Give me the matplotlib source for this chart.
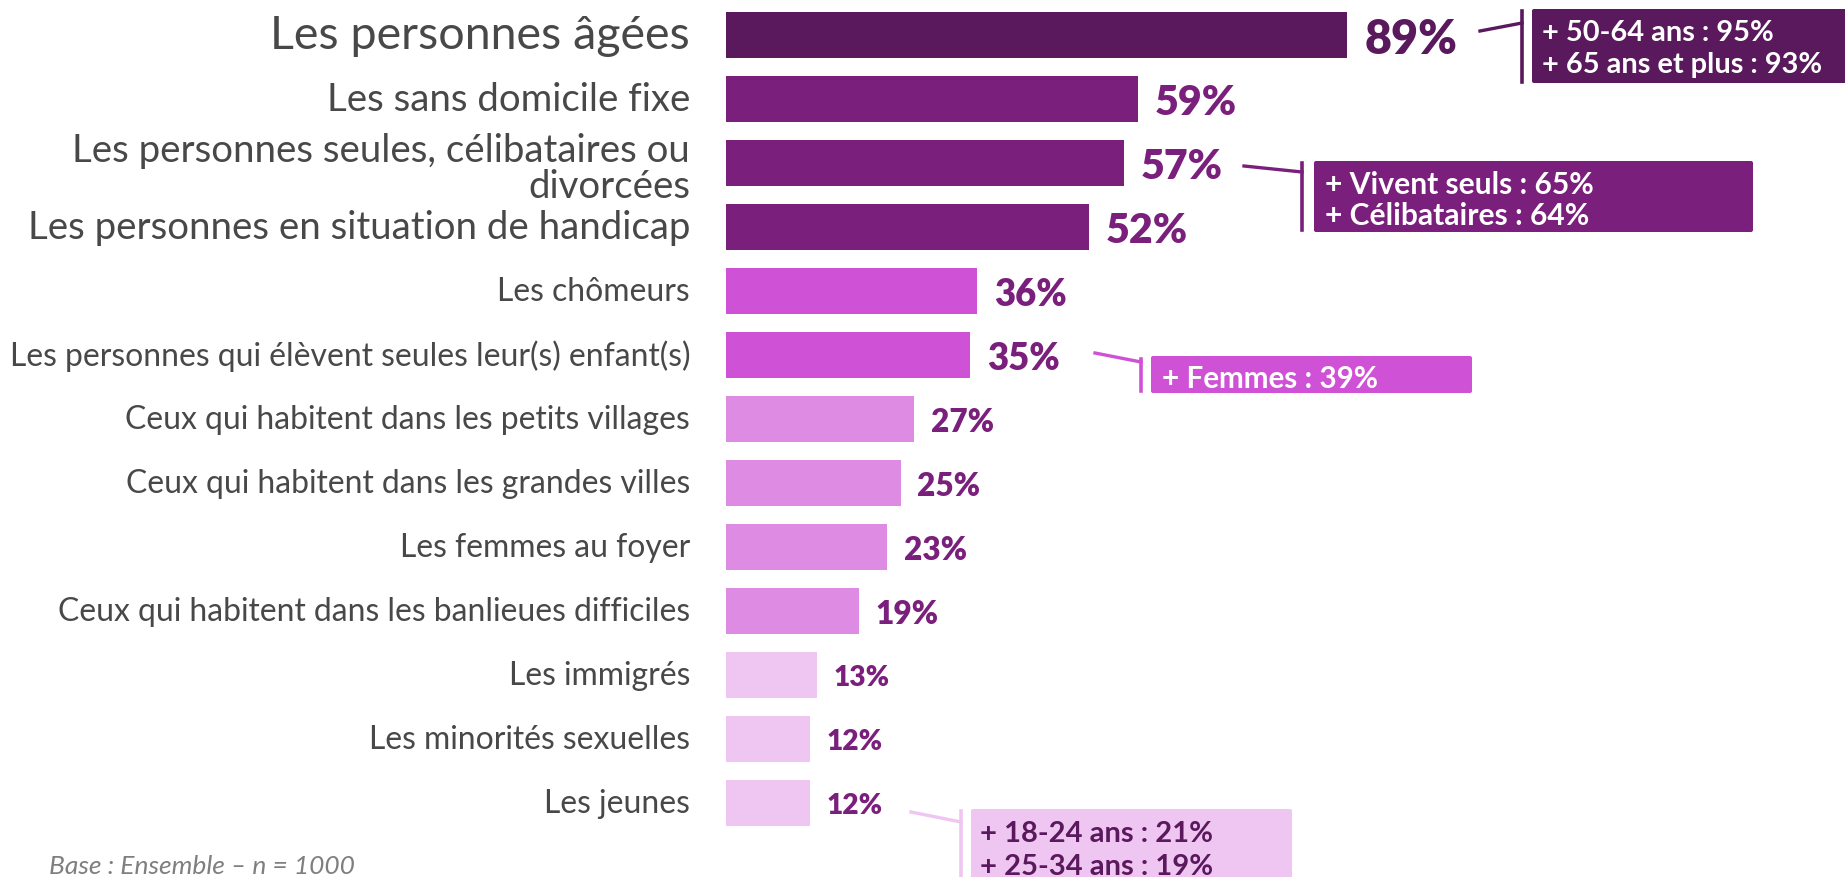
import matplotlib
matplotlib.use("Agg")
import matplotlib.pyplot as plt
from matplotlib.patches import FancyBboxPatch
from matplotlib.lines import Line2D
from matplotlib.transforms import Affine2D

# ---------------- data ----------------
categories = [
    "Les personnes âgées",
    "Les sans domicile fixe",
    "Les personnes seules, célibataires ou\ndivorcées",
    "Les personnes en situation de handicap",
    "Les chômeurs",
    "Les personnes qui élèvent seules leur(s) enfant(s)",
    "Ceux qui habitent dans les petits villages",
    "Ceux qui habitent dans les grandes villes",
    "Les femmes au foyer",
    "Ceux qui habitent dans les banlieues difficiles",
    "Les immigrés",
    "Les minorités sexuelles",
    "Les jeunes",
]
values = [89, 59, 57, 52, 36, 35, 27, 25, 23, 19, 13, 12, 12]

callout_1 = ["+ 50-64 ans : 95%", "+ 65 ans et plus : 93%"]
callout_2 = ["+ Vivent seuls : 65%", "+ Célibataires : 64%"]
callout_3 = ["+ Femmes : 39%"]
callout_4 = ["+ 18-24 ans : 21%", "+ 25-34 ans : 19%"]
footnote = "Base : Ensemble – n = 1000"

# ---------------- style ----------------
C_DARK = "#5A185D"
C_PURPLE = "#7A1F7B"
C_MAGENTA = "#CF52D6"
C_PINK = "#DE8CE3"
C_LIGHT = "#EFC6F1"
bar_colors = [C_DARK, C_PURPLE, C_PURPLE, C_PURPLE,
              C_MAGENTA, C_MAGENTA,
              C_PINK, C_PINK, C_PINK, C_PINK,
              C_LIGHT, C_LIGHT, C_LIGHT]
value_colors = [C_DARK] + [C_PURPLE] * 12
label_tier = [0, 1, 1, 1, 2, 2, 2, 2, 2, 2, 2, 2, 2]
value_tier = [0, 1, 1, 1, 2, 2, 3, 3, 3, 3, 4, 4, 4]

FAM = ["Lato", "DejaVu Sans"]
W, H = 1845, 878
DPI = 100
X0 = 726.0        # pixel of 0 %
PX_PER_PCT = 6.98
Y0 = 35.7         # pixel centre of first row
ROW = 64.0        # row pitch in pixels

fig = plt.figure(figsize=(W / DPI, H / DPI), dpi=DPI)
renderer = fig.canvas.get_renderer()
ax = fig.add_axes([0, 0, 1, 1])
ax.set_xlim(-X0 / PX_PER_PCT, (W - X0) / PX_PER_PCT)
ax.set_ylim((H - Y0) / ROW, -Y0 / ROW)
ax.axis("off")

# pixel transform (origin top-left)
pix = Affine2D().scale(1, -1).translate(0, H)


def fit(text, target, **kw):
    t = fig.text(0, 0, text, fontsize=20, family=FAM, **kw)
    w = t.get_window_extent(renderer).width
    t.remove()
    return 20 * target / w


rows = list(range(len(categories)))
ax.barh(rows, values, height=46 / ROW, color=bar_colors, left=0)

# category labels
label_sizes = [
    fit("Les personnes âgées", 422),
    fit("Les personnes en situation de handicap", 664),
    fit("Les personnes qui élèvent seules leur(s) enfant(s)", 682),
]
label_x = (690 - X0) / PX_PER_PCT
for i, cat in enumerate(categories):
    yy = i + (5 / ROW if "\n" in cat else 0)
    ax.text(label_x, yy, cat, ha="right", va="center", multialignment="right",
            fontsize=label_sizes[label_tier[i]], family=FAM,
            color="#484848", linespacing=1.0)

# value labels
VW = "heavy"
value_sizes = [
    fit("89%", 93, fontweight=VW),
    fit("59%", 82, fontweight=VW),
    fit("36%", 73, fontweight=VW),
    fit("27%", 63, fontweight=VW),
    fit("13%", 56, fontweight=VW),
]
gap = 17 / PX_PER_PCT
for i, v in enumerate(values):
    ax.text(v + gap, i, f"{v}%", ha="left", va="center_baseline",
            fontsize=value_sizes[value_tier[i]], family=FAM, fontweight=VW,
            color=value_colors[i])


# callouts (pixel layout)
def callout(lines, box, bracket, connector, text_x, text_ys, color, tcolor, fs):
    x1, y1, x2, y2 = box
    fig.patches.append(FancyBboxPatch((x1, y1), x2 - x1, y2 - y1,
                                      boxstyle="round,pad=0,rounding_size=2",
                                      transform=pix, facecolor=color,
                                      edgecolor="none", figure=fig))
    bx, by1, by2 = bracket
    fig.lines.append(Line2D([bx, bx], [by1, by2], transform=pix, color=color,
                            lw=2.6, figure=fig))
    (cx1, cy1), (cx2, cy2) = connector
    fig.lines.append(Line2D([cx1, cx2], [cy1, cy2], transform=pix, color=color,
                            lw=2.4, figure=fig))
    for line, ty in zip(lines, text_ys):
        fig.text(text_x, ty, line, transform=pix, ha="left", va="center_baseline",
                 fontsize=fs, family=FAM, fontweight="bold", color=tcolor)


fs1 = fit(callout_1[1], 280, fontweight="bold")
fs2 = fit(callout_2[1], 264, fontweight="bold")
fs3 = fit(callout_3[0], 216, fontweight="bold")
fs4 = fit(callout_4[0], 233, fontweight="bold")

callout(callout_1, (1532, 10, 1860, 84), (1522, 12, 83), ((1480, 32), (1522, 24)),
        1542, [31, 63], C_DARK, "white", fs1)
callout(callout_2, (1314, 162, 1753, 233), (1302, 164, 231), ((1244, 167), (1302, 173)),
        1325, [183, 214], C_PURPLE, "white", fs2)
callout(callout_3, (1151, 357, 1472, 394), (1141, 360, 392), ((1095, 354), (1141, 363)),
        1162, [377], C_MAGENTA, "white", fs3)
callout(callout_4, (971, 810, 1292, 900), (961, 812, 890), ((911, 813), (961, 823)),
        980, [832, 865], C_LIGHT, C_DARK, fs4)

# footnote
fig.text(49, 874, footnote, transform=pix, ha="left", va="baseline",
         fontsize=fit(footnote, 307, style="italic"),
         family=FAM, style="italic", color="#7F7F7F")

fig.savefig("out.png", dpi=DPI)
